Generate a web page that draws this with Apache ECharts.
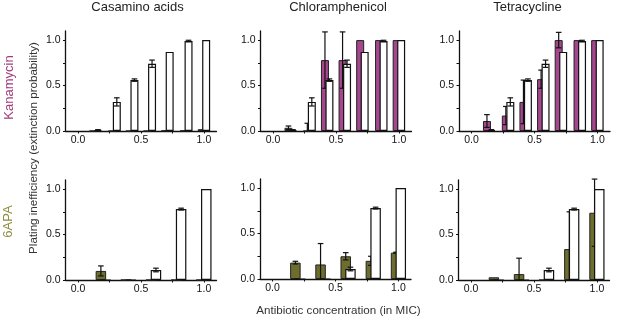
<!DOCTYPE html>
<html>
<head>
<meta charset="utf-8">
<script src="https://cdn.jsdelivr.net/npm/echarts@6/dist/echarts.min.js"></script>
<style>
  html, body { margin: 0; padding: 0; background: #fff; }
  #main { width: 617px; height: 318px; }
</style>
</head>
<body>
<div id="main"></div>
<script>
// concentrations (in MIC)
const kanConc = [0.14, 0.29, 0.43, 0.57, 0.71, 0.86, 1.0];
const apaConc = [0.2, 0.4, 0.6, 0.8, 1.0];

// tick labels
const xTickLabels = [0, 0.5, 1];
const xTicks = [0, 0.25, 0.5, 0.75, 1];
const yTickLabels = [0, 0.5, 1];
const yTicks = [0, 0.25, 0.5, 0.75, 1];

// Kanamycin row: white = antibiotic alone, purple = combination
const kanControl = [0.01, 0.32, 0.56, 0.74, 0.87, 0.99, 1.0];
const kanControlErr = [0.005, 0.045, 0.013, 0.04, 0, 0.008, 0];
const kanCasamino = [0, 0, 0, 0, 0.005, 0.005, 0.02];
const kanCasaminoErr = [0, 0, 0, 0, 0, 0, 0];
const kanChloram = [0.035, 0, 0.78, 0.78, 1.0, 1.0, 1.0];
const kanChloramErr = [0.02, 0.085, 0.31, 0.31, 0, 0, 0];
const kanTetra = [0.11, 0.17, 0.32, 0.57, 1.0, 1.0, 1.0];
const kanTetraErr = [0.07, 0.1, 0.24, 0.1, 0.085, 0, 0];

// 6APA row: white = antibiotic alone, green = combination
const apaControl = [0, 0, 0.11, 0.78, 1.0];
const apaControlErr = [0, 0, 0.02, 0.01, 0];
const apaCasamino = [0.1, 0, 0, 0, 0];
const apaCasaminoErr = [0.055, 0, 0, 0, 0];
const apaChloram = [0.18, 0.16, 0.25, 0.2, 0.29];
const apaChloramErr = [0.015, 0.23, 0.04, 0.05, 0.005];
const apaTetra = [0.03, 0.065, 0, 0.34, 0.74];
const apaTetraErr = [0, 0.175, 0, 0.41, 0.37];

const PURPLE = '#a5468f';
const GREEN = '#6d6d2d';
const FONT = 'Liberation Sans, Arial, sans-serif';

const panels = [
    { left: 65.5, top: 31, conc: kanConc, drug: kanCasamino, drugErr: kanCasaminoErr, ctrl: kanControl, ctrlErr: kanControlErr, color: PURPLE, barW: 8, gap: -0.44 },
    { left: 260.5, top: 31, conc: kanConc, drug: kanChloram, drugErr: kanChloramErr, ctrl: kanControl, ctrlErr: kanControlErr, color: PURPLE, barW: 8, gap: -0.44 },
    { left: 459, top: 31, conc: kanConc, drug: kanTetra, drugErr: kanTetraErr, ctrl: kanControl, ctrlErr: kanControlErr, color: PURPLE, barW: 8, gap: -0.44 },
    { left: 65.5, top: 180, conc: apaConc, drug: apaCasamino, drugErr: apaCasaminoErr, ctrl: apaControl, ctrlErr: apaControlErr, color: GREEN, barW: 10.5, gap: -0.55 },
    { left: 260, top: 179, conc: apaConc, drug: apaChloram, drugErr: apaChloramErr, ctrl: apaControl, ctrlErr: apaControlErr, color: GREEN, barW: 10.5, gap: -0.55 },
    { left: 458.5, top: 180, conc: apaConc, drug: apaTetra, drugErr: apaTetraErr, ctrl: apaControl, ctrlErr: apaControlErr, color: GREEN, barW: 10.5, gap: -0.55 },
];

// error bar drawn at the bar centre (shifted like the grouped bars)
function errorItem(shift, cap) {
    return function (params, api) {
        const x = api.value(0), y = api.value(1), e = api.value(2);
        if (!e) return null;
        const lo = Math.max(0, y - e);
        const top = api.coord([x, y + e]);
        const bot = api.coord([x, lo]);
        const cx = top[0] + shift;
        const st = { stroke: '#111', lineWidth: 1.2 };
        const children = [
            { type: 'line', shape: { x1: cx, y1: top[1], x2: cx, y2: bot[1] }, style: st },
            { type: 'line', shape: { x1: cx - cap, y1: top[1], x2: cx + cap, y2: top[1] }, style: st },
        ];
        if (y - e > 0) {
            children.push({ type: 'line', shape: { x1: cx - cap, y1: bot[1], x2: cx + cap, y2: bot[1] }, style: st });
        }
        return { type: 'group', children };
    };
}

const grid = [], xAxis = [], yAxis = [], series = [];
panels.forEach((p, i) => {
    grid.push({ left: p.left, top: p.top, width: 151, height: 100 });
    xAxis.push({
        type: 'value', gridIndex: i, min: -0.1, max: 1.1,
        splitLine: { show: false },
        axisLine: { onZero: false, lineStyle: { color: '#111', width: 1.3 } },
        axisTick: { show: true, length: 2.5, customValues: xTicks, lineStyle: { color: '#111' } },
        axisLabel: {
            customValues: xTickLabels, margin: 4, fontSize: 10.5, color: '#111', fontFamily: FONT,
            formatter: v => v.toFixed(1)
        }
    });
    yAxis.push({
        type: 'value', gridIndex: i, min: 0, max: 1.1,
        splitLine: { show: false },
        axisLine: { show: true, onZero: false, lineStyle: { color: '#111', width: 1.3 } },
        axisTick: { show: true, length: 2.5, customValues: yTicks, lineStyle: { color: '#111' } },
        axisLabel: {
            customValues: yTickLabels, margin: 5, fontSize: 10.5, color: '#111', fontFamily: FONT,
            formatter: v => v.toFixed(1)
        }
    });
    const sep = p.barW * (1 + p.gap) / 2;
    const gapStr = Math.round(p.gap * 100) + '%';
    series.push({
        type: 'bar', xAxisIndex: i, yAxisIndex: i, z: 2,
        barWidth: p.barW, barGap: gapStr,
        data: p.conc.map((c, k) => [c, p.drug[k]]),
        itemStyle: { color: p.color, borderColor: '#222', borderWidth: 1 }
    });
    series.push({
        type: 'custom', xAxisIndex: i, yAxisIndex: i, z: 3,
        renderItem: errorItem(-sep, 2.8),
        data: p.conc.map((c, k) => [c, p.drug[k], p.drugErr[k]])
    });
    series.push({
        type: 'bar', xAxisIndex: i, yAxisIndex: i, z: 4,
        barWidth: p.barW, barGap: gapStr,
        data: p.conc.map((c, k) => [c, p.ctrl[k]]),
        itemStyle: { color: '#fff', borderColor: '#111', borderWidth: 1.2 }
    });
    series.push({
        type: 'custom', xAxisIndex: i, yAxisIndex: i, z: 5,
        renderItem: errorItem(sep, 2.8),
        data: p.conc.map((c, k) => [c, p.ctrl[k], p.ctrlErr[k]])
    });
});

const txt = (text, x, y, size, fill, rot) => ({
    type: 'text', x, y, rotation: rot || 0,
    style: { text, fontSize: size, fill, fontFamily: FONT, textAlign: 'center', textVerticalAlign: 'middle' }
});

const chart = echarts.init(document.getElementById('main'));
chart.setOption({
    animation: false,
    grid, xAxis, yAxis, series,
    graphic: [
        txt('Casamino acids', 137.5, 7, 13, '#222'),
        txt('Chloramphenicol', 338, 7, 13, '#222'),
        txt('Tetracycline', 527.5, 7, 13, '#222'),
        txt('Kanamycin', 9, 87.5, 13, '#a23c7c', Math.PI / 2),
        txt('6APA', 8, 221.5, 13, '#8e8e40', Math.PI / 2),
        txt('Plating inefficiency (extinction probability)', 33.5, 148, 11.6, '#333', Math.PI / 2),
        txt('Antibiotic concentration (in MIC)', 338.5, 310.5, 11.6, '#333'),
    ]
});
</script>
</body>
</html>
